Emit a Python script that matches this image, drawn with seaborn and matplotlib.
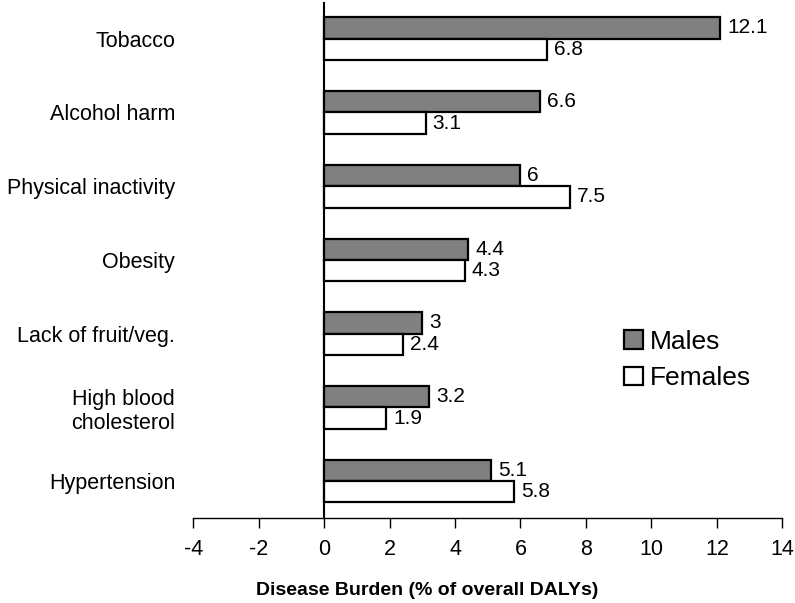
import matplotlib
matplotlib.use("Agg")
import matplotlib.pyplot as plt
import seaborn as sns
import pandas as pd

categories = ["Tobacco", "Alcohol harm", "Physical inactivity", "Obesity",
              "Lack of fruit/veg.", "High blood\ncholesterol", "Hypertension"]
males = [12.1, 6.6, 6, 4.4, 3, 3.2, 5.1]
females = [6.8, 3.1, 7.5, 4.3, 2.4, 1.9, 5.8]
xticks = [-4, -2, 0, 2, 4, 6, 8, 10, 12, 14]

df = pd.DataFrame({
    "Risk": categories * 2,
    "Sex": ["Males"] * len(categories) + ["Females"] * len(categories),
    "Value": males + females,
})

sns.set_theme(style="white")
plt.rcParams['font.family'] = ['Liberation Sans', 'DejaVu Sans']
plt.rcParams['text.color'] = 'black'
plt.rcParams['xtick.color'] = 'black'
plt.rcParams['ytick.color'] = 'black'
plt.rcParams['axes.labelcolor'] = 'black'

fig = plt.figure(figsize=(7.95, 6.03), dpi=100)
ax = fig.add_axes([0.243, 0.141, 0.741, 0.856])

sns.barplot(data=df, y="Risk", x="Value", hue="Sex", orient="h",
            palette={"Males": "#808080", "Females": "white"},
            edgecolor="black", linewidth=1.6, width=0.58, ax=ax,
            order=categories, hue_order=["Males", "Females"])

for cont in ax.containers:
    ax.bar_label(cont, labels=[f"{b.get_width():g}" for b in cont],
                 padding=5, fontsize=15)

ax.set_xlim(-4, 14)
ax.set_ylim(6.5, -0.5)
ax.set_xticks(xticks)
ax.set_xticklabels([str(t) for t in xticks], fontsize=15.5)
ax.tick_params(axis="x", direction="out", length=7, width=1, color="black",
               bottom=True, pad=8)
ax.tick_params(axis="y", length=0, labelsize=15.5, pad=13)
for lbl in ax.get_yticklabels():
    lbl.set_multialignment("center")

ax.axvline(0, color="black", lw=1.5, zorder=5)
for s in ["top", "right", "left"]:
    ax.spines[s].set_visible(False)
ax.spines["bottom"].set_color("black")
ax.spines["bottom"].set_linewidth(1)

ax.set_ylabel("")
ax.set_xlabel("Disease Burden (% of overall DALYs)", fontsize=14,
              fontweight="bold")
ax.xaxis.set_label_coords(0.398, -0.125)

ax.legend(loc="center left", bbox_to_anchor=(0.714, 0.306), frameon=False,
          fontsize=19, handlelength=0.7, handleheight=0.7, handletextpad=0.25,
          labelspacing=0.49, borderaxespad=0)

fig.savefig("out.png", dpi=100)
